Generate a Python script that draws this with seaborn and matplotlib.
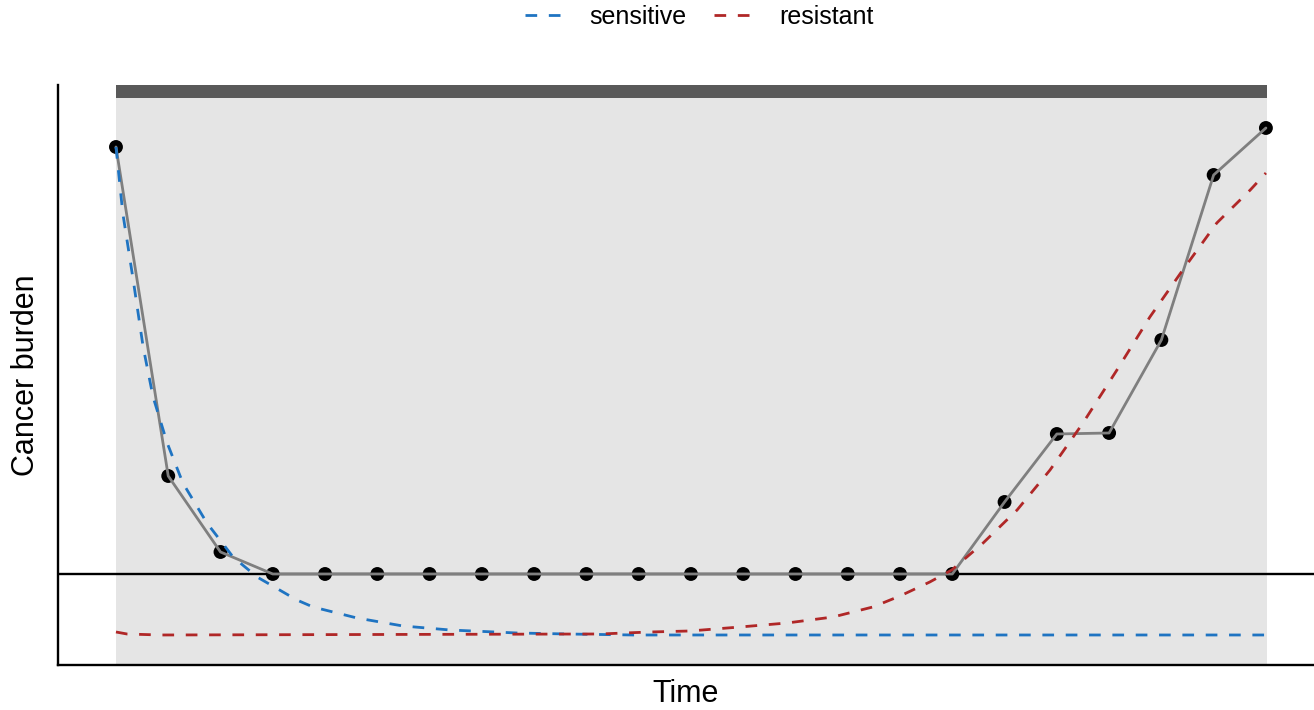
import numpy as np
import pandas as pd
import matplotlib
matplotlib.use("Agg")
import matplotlib.pyplot as plt
import seaborn as sns

# observed burden at each visit
visit = list(range(23))
burden = [4.88, 1.59, 0.83, 0.61, 0.61, 0.61, 0.61, 0.61, 0.61, 0.61, 0.61,
          0.61, 0.61, 0.61, 0.61, 0.61, 0.61, 1.33, 2.01, 2.02, 2.95, 4.60, 5.07]
threshold = 0.61

# model curves
sens_t = [0, 0.13, 0.33, 0.52, 0.71, 0.98, 1.28, 1.74, 2.24, 2.70, 3.46, 3.77,
          4.61, 5.49, 6.39, 7.67, 8.63, 9.89, 22]
sens_y = [4.88, 4.22, 3.55, 2.88, 2.38, 1.92, 1.52, 1.12, 0.78, 0.58, 0.35, 0.28,
          0.17, 0.09, 0.05, 0.02, 0.01, 0.0, 0.0]
res_t = [0, 0.21, 0.84, 9.26, 10.22, 10.98, 11.94, 12.84, 13.72, 14.48, 15.0,
         15.57, 15.99, 16.59, 17.24, 17.87, 18.50, 19.15, 19.78, 20.41, 21.06, 21.70, 22.0]
res_y = [0.03, 0.01, 0.0, 0.01, 0.03, 0.04, 0.08, 0.12, 0.18, 0.28, 0.39,
         0.53, 0.65, 0.92, 1.25, 1.65, 2.12, 2.65, 3.18, 3.65, 4.12, 4.45, 4.62]
treat_start, treat_end = 0, 22.03

obs = pd.DataFrame({"time": visit, "burden": burden})
curves = pd.concat([
    pd.DataFrame({"time": sens_t, "burden": sens_y, "cells": "sensitive"}),
    pd.DataFrame({"time": res_t, "burden": res_y, "cells": "resistant"}),
])

sns.set_style("white")
plt.rcParams["font.family"] = ["Liberation Sans", "DejaVu Sans"]
plt.rcParams["text.color"] = "black"
plt.rcParams["axes.labelcolor"] = "black"

fig = plt.figure(figsize=(13.14, 7.10), dpi=100)
ax = fig.add_axes([0.0441, 0.0634, 0.9559, 0.8169])

ax.axvspan(treat_start, treat_end, color="#e5e5e5", lw=0, zorder=0)
ax.axvspan(treat_start, treat_end, ymin=0.9776, ymax=1, color="#595959", lw=0, zorder=0.5)
ax.axhline(threshold, color="black", lw=1.7, zorder=1)

sns.scatterplot(data=obs, x="time", y="burden", color="black", s=100,
                edgecolor="none", zorder=2, ax=ax)
sns.lineplot(data=obs, x="time", y="burden", color="#7f7f7f", lw=2.0,
             zorder=3, ax=ax)
sns.lineplot(data=curves, x="time", y="burden", hue="cells",
             palette={"sensitive": "#1f74c2", "resistant": "#b02727"},
             style="cells", dashes={"sensitive": (4.2, 4.2), "resistant": (4.2, 4.2)},
             lw=2.0, sort=False, zorder=4, ax=ax)

ax.set_xlim(-1.11, 22.92)
ax.set_ylim(-0.30, 5.50)
ax.set_xticks([])
ax.set_yticks([])
ax.set_xlabel("Time", fontsize=22, labelpad=10)
ax.set_ylabel("Cancer burden", fontsize=22, labelpad=12)
for side in ["top", "right"]:
    ax.spines[side].set_visible(False)
for side in ["left", "bottom"]:
    ax.spines[side].set_color("black")
    ax.spines[side].set_linewidth(1.7)

handles, labels = ax.get_legend_handles_labels()
ax.legend_.remove()
fig.legend(handles, labels, loc="upper center", bbox_to_anchor=(0.532, 1.025),
           ncol=2, frameon=False, fontsize=18, handlelength=1.6,
           columnspacing=1.1, handletextpad=1.0)

fig.savefig("out.png", dpi=100)
